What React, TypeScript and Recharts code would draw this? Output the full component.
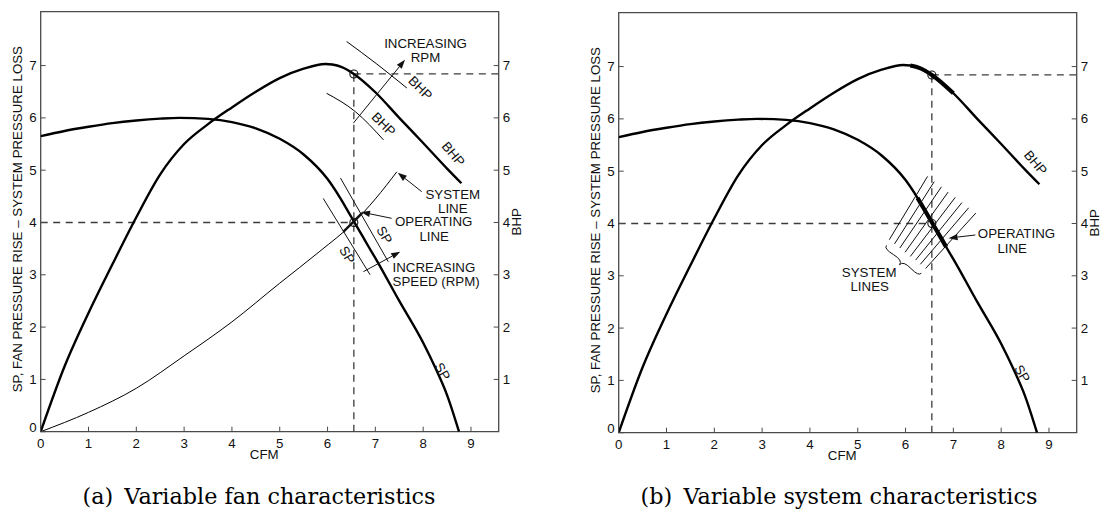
import React from 'react';
import {
  LineChart,
  Line,
  XAxis,
  YAxis,
  ReferenceLine,
  ReferenceDot,
  ReferenceArea,
} from 'recharts';

// ---- axes ----
const X_MAX = 9.58;
const Y_MAX = 8.03;
const CFM_TICKS = [0, 1, 2, 3, 4, 5, 6, 7, 8, 9];
const SP_TICKS = [0, 1, 2, 3, 4, 5, 6, 7];
const BHP_TICKS = [1, 2, 3, 4, 5, 6, 7];

const X_TITLE = 'CFM';
const Y_TITLE = 'SP, FAN PRESSURE RISE \u2013 SYSTEM PRESSURE LOSS';
const Y2_TITLE = 'BHP';
const CAPTION_A = '(a)\u2002Variable fan characteristics';
const CAPTION_B = '(b)\u2002Variable system characteristics';

// ---- fan static pressure curve ----
const SP_CFM = [0, 0.5, 1, 1.5, 2, 2.5, 2.9, 3.5, 4, 4.5, 5, 5.5, 6, 6.25, 6.5, 6.75, 6.85, 7, 7.5, 8, 8.25, 8.5, 8.75];
const SP_VALUES = [5.65, 5.75, 5.83, 5.9, 5.95, 5.985, 6.0, 5.98, 5.92, 5.8, 5.6, 5.3, 4.83, 4.49, 4.1, 3.71, 3.55, 3.32, 2.5, 1.7, 1.23, 0.7, 0];

// ---- brake horsepower curve ----
const BHP_CFM = [0, 0.5, 1, 1.5, 2, 2.5, 3, 3.5, 4, 4.5, 5, 5.5, 5.95, 6.1, 6.3, 6.55, 7, 7.5, 8, 8.5, 8.8];
const BHP_VALUES = [0, 1.25, 2.27, 3.2, 4.1, 4.92, 5.5, 5.88, 6.2, 6.5, 6.76, 6.94, 7.03, 7.02, 6.97, 6.84, 6.49, 6.0, 5.52, 5.03, 4.75];

// ---- system curve (panel a) ----
const SYSTEM_CFM = [0, 1, 2, 3, 4, 5, 5.84, 6.55, 7.0, 7.45];
const SYSTEM_SP = [0, 0.37, 0.83, 1.45, 2.1, 2.84, 3.45, 4.0, 4.45, 4.97];

// ---- operating point ----
const OP_CFM = 6.55;
const OP_SP = 4.0;
const OP_BHP = 6.84;

// ---- BHP at other fan speeds (panel a) ----
const BHP_HIGH_CFM = [6.4, 7.03, 7.66];
const BHP_HIGH = [7.46, 7.03, 6.57];
const BHP_LOW_CFM = [5.98, 6.58, 7.17];
const BHP_LOW = [6.47, 6.12, 5.58];

// ---- SP at other fan speeds (panel a), straight strokes ----
const SP_LOW_CFM = [5.91, 6.89];
const SP_LOW = [4.46, 3.0];
const SP_HIGH_CFM = [6.27, 7.27];
const SP_HIGH = [4.85, 3.25];

// operating line segment (panel a)
const OPLINE_CFM = [6.33, 6.72];
const OPLINE_SP = [3.82, 4.18];

// ---- family of system lines (panel b) ----
const HATCH_LOW_CFM = [5.66, 5.77, 5.88, 5.99, 6.1, 6.21, 6.31, 6.42];
const HATCH_LOW_SP = [3.69, 3.61, 3.53, 3.45, 3.37, 3.3, 3.22, 3.14];
const HATCH_HIGH_CFM = [6.46, 6.6, 6.75, 6.89, 7.04, 7.18, 7.32, 7.47];
const HATCH_HIGH_SP = [4.9, 4.8, 4.7, 4.6, 4.5, 4.4, 4.3, 4.2];
const BRACE_CFM = [5.6, 6.33];
const BRACE_SP = [3.58, 3.05];

const pts = (xs: number[], ys: number[]) => xs.map((x, i) => ({ x, y: ys[i] }));

const spCurve = pts(SP_CFM, SP_VALUES);
const bhpCurve = pts(BHP_CFM, BHP_VALUES);
const systemCurve = pts(SYSTEM_CFM, SYSTEM_SP);
const bhpHigh = pts(BHP_HIGH_CFM, BHP_HIGH);
const bhpLow = pts(BHP_LOW_CFM, BHP_LOW);
const spFocus = spCurve.filter((p) => p.x >= 6.25 && p.x <= 6.85);
const bhpFocus = bhpCurve.filter((p) => p.x >= 6.1 && p.x <= 7.0);

// ---- styling ----
const SANS = '"Liberation Sans", Arial, Helvetica, sans-serif';
const SERIF = '"DejaVu Serif", serif';
const INK = '#111';
const AXIS = '#4a4a4a';
const DASH = '#3c3c3c';
const TICK_LEN = 5;
const TICK_MARGIN = 4;
const FS = 13.3;

// ---- tick renderers (tick marks point into the plot) ----
const leftTick = (p: any) => {
  const { x, y, payload } = p;
  const ax = x + TICK_MARGIN;
  const lift = payload.value === 0 ? -4 : 0;
  return (
    <g>
      <line x1={ax} x2={ax + TICK_LEN} y1={y} y2={y} stroke={AXIS} strokeWidth={1} />
      <text x={x} y={y + lift} textAnchor="end" dominantBaseline="central" fontFamily={SANS} fontSize={FS} fill={INK}>
        {payload.value}
      </text>
    </g>
  );
};

const rightTick = (p: any) => {
  const { x, y, payload } = p;
  const ax = x - TICK_MARGIN;
  return (
    <g>
      <line x1={ax - TICK_LEN} x2={ax} y1={y} y2={y} stroke={AXIS} strokeWidth={1} />
      <text x={x} y={y} textAnchor="start" dominantBaseline="central" fontFamily={SANS} fontSize={FS} fill={INK}>
        {payload.value}
      </text>
    </g>
  );
};

const bottomTick = (p: any) => {
  const { x, y, payload } = p;
  const ay = y - TICK_MARGIN;
  return (
    <g>
      <line x1={x} x2={x} y1={ay - TICK_LEN} y2={ay} stroke={AXIS} strokeWidth={1} />
      <text x={x} y={ay + 11.5} textAnchor="middle" dominantBaseline="central" fontFamily={SANS} fontSize={FS} fill={INK}>
        {payload.value}
      </text>
    </g>
  );
};

// ---- axis titles ----
const xTitle = (p: any) => {
  const vb = p?.viewBox ?? {};
  const x = (vb.x ?? 40.7) + 223.5;
  const y = (vb.y ?? 431.7) + 23;
  return (
    <text x={x} y={y} textAnchor="middle" dominantBaseline="central" fontFamily={SANS} fontSize={FS} fill={INK}>
      {X_TITLE}
    </text>
  );
};

const yTitle = (p: any) => {
  const vb = p?.viewBox ?? {};
  const x = (vb.x ?? 10.7) + (vb.width ?? 30) - 23.2;
  const y = (vb.y ?? 11.7) + (vb.height ?? 420) / 2 - 2.5;
  return (
    <text x={x} y={y} transform={`rotate(-90 ${x} ${y})`} textAnchor="middle" dominantBaseline="central" fontFamily={SANS} fontSize={FS} fill={INK}>
      {Y_TITLE}
    </text>
  );
};

const y2Title = (p: any) => {
  const vb = p?.viewBox ?? {};
  const x = (vb.x ?? 498.7) + 18;
  const y = (vb.y ?? 11.7) + (vb.height ?? 420) / 2;
  return (
    <text x={x} y={y} transform={`rotate(-90 ${x} ${y})`} textAnchor="middle" dominantBaseline="central" fontFamily={SANS} fontSize={FS} fill={INK}>
      {Y2_TITLE}
    </text>
  );
};

// ---- shapes ----
const ArrowShape = (p: any) => {
  const { x1, y1, x2, y2 } = p;
  const ang = Math.atan2(y2 - y1, x2 - x1);
  const L = 9;
  const W = 3.2;
  const bx = x2 - L * Math.cos(ang);
  const by = y2 - L * Math.sin(ang);
  const nx = -Math.sin(ang) * W;
  const ny = Math.cos(ang) * W;
  return (
    <g>
      <line x1={x1} y1={y1} x2={bx} y2={by} stroke={INK} strokeWidth={1} />
      <polygon points={`${x2},${y2} ${bx + nx},${by + ny} ${bx - nx},${by - ny}`} fill={INK} />
    </g>
  );
};

const BraceShape = (p: any) => {
  const { x1, y1, x2, y2 } = p;
  const w = 7;
  const q = 0.6;
  let dx = x1 - x2;
  let dy = y1 - y2;
  const len = Math.sqrt(dx * dx + dy * dy);
  dx /= len;
  dy /= len;
  const qx1 = x1 + q * w * dy;
  const qy1 = y1 - q * w * dx;
  const qx2 = x1 - 0.25 * len * dx + (1 - q) * w * dy;
  const qy2 = y1 - 0.25 * len * dy - (1 - q) * w * dx;
  const tx = x1 - 0.5 * len * dx + w * dy;
  const ty = y1 - 0.5 * len * dy - w * dx;
  const qx3 = x2 + q * w * dy;
  const qy3 = y2 - q * w * dx;
  const qx4 = x1 - 0.75 * len * dx + (1 - q) * w * dy;
  const qy4 = y1 - 0.75 * len * dy - (1 - q) * w * dx;
  const d = `M ${x1} ${y1} Q ${qx1} ${qy1} ${qx2} ${qy2} T ${tx} ${ty} M ${x2} ${y2} Q ${qx3} ${qy3} ${qx4} ${qy4} T ${tx} ${ty}`;
  return <path d={d} fill="none" stroke={INK} strokeWidth={1} />;
};

// ---- element helpers ----
const note = (key: string, x: number, y: number, text: string, rotate = 0, anchor = 'middle') => (
  <ReferenceDot
    key={key}
    yAxisId="l"
    x={x}
    y={y}
    r={0}
    ifOverflow="visible"
    shape={(p: any) => (
      <text
        x={p.cx}
        y={p.cy}
        transform={rotate ? `rotate(${rotate} ${p.cx} ${p.cy})` : undefined}
        textAnchor={anchor}
        dominantBaseline="central"
        fontFamily={SANS}
        fontSize={FS}
        fill={INK}
      >
        {text}
      </text>
    )}
  />
);

const seg = (key: string, x1: number, y1: number, x2: number, y2: number, width = 1, dash?: string, color = INK) => (
  <ReferenceLine
    key={key}
    yAxisId="l"
    segment={[{ x: x1, y: y1 }, { x: x2, y: y2 }]}
    ifOverflow="visible"
    stroke={color}
    strokeWidth={width}
    strokeDasharray={dash}
  />
);

const arrow = (key: string, x1: number, y1: number, x2: number, y2: number) => (
  <ReferenceLine key={key} yAxisId="l" segment={[{ x: x1, y: y1 }, { x: x2, y: y2 }]} ifOverflow="visible" shape={ArrowShape} />
);

const ring = (key: string, x: number, y: number) => (
  <ReferenceDot key={key} yAxisId="l" x={x} y={y} r={4} fill="none" stroke={INK} strokeWidth={1.1} ifOverflow="visible" />
);

const curve = (key: string, data: { x: number; y: number }[], width: number) => (
  <Line
    key={key}
    yAxisId="l"
    data={data}
    dataKey="y"
    type="monotone"
    stroke="#000"
    strokeWidth={width}
    dot={false}
    activeDot={false}
    isAnimationActive={false}
  />
);

const DASH_PATTERN = '7 5.5';

function Panel({ variant }: { variant: 'a' | 'b' }) {
  const a = variant === 'a';
  const extras = a
    ? [
        curve('sys', systemCurve, 1),
        curve('bhpHi', bhpHigh, 1),
        curve('bhpLo', bhpLow, 1),
        seg('spLo', SP_LOW_CFM[0], SP_LOW[0], SP_LOW_CFM[1], SP_LOW[1]),
        seg('spHi', SP_HIGH_CFM[0], SP_HIGH[0], SP_HIGH_CFM[1], SP_HIGH[1]),
        seg('opLine', OPLINE_CFM[0], OPLINE_SP[0], OPLINE_CFM[1], OPLINE_SP[1], 2.4),
        arrow('rpmArrow', 6.54, 5.9, 7.62, 7.11),
        arrow('sysArrow', 7.97, 4.59, 7.47, 4.95),
        arrow('opArrow', 7.34, 4.08, 6.7, 4.2),
        arrow('speedArrow', 6.75, 3.06, 7.52, 3.44),
        note('t1', 8.05, 7.43, 'INCREASING'),
        note('t2', 8.05, 7.16, 'RPM'),
        note('t3', 7.94, 6.57, 'BHP', 45),
        note('t4', 7.17, 5.88, 'BHP', 45),
        note('t5', 8.63, 5.31, 'BHP', 50),
        note('t6', 8.62, 4.54, 'SYSTEM'),
        note('t7', 8.62, 4.27, 'LINE'),
        note('t8', 8.22, 4.02, 'OPERATING'),
        note('t9', 8.23, 3.74, 'LINE'),
        note('t10', 7.19, 3.76, 'SP', 60),
        note('t11', 6.41, 3.38, 'SP', 60),
        note('t12', 7.36, 3.13, 'INCREASING', 0, 'start'),
        note('t13', 7.36, 2.87, 'SPEED (RPM)', 0, 'start'),
        note('t14', 8.4, 1.15, 'SP', 60),
      ]
    : [
        curve('spFocus', spFocus, 4.2),
        curve('bhpFocus', bhpFocus, 4.2),
        ...HATCH_LOW_CFM.map((x, i) => seg(`hatch${i}`, x, HATCH_LOW_SP[i], HATCH_HIGH_CFM[i], HATCH_HIGH_SP[i])),
        <ReferenceLine
          key="brace"
          yAxisId="l"
          segment={[{ x: BRACE_CFM[0], y: BRACE_SP[0] }, { x: BRACE_CFM[1], y: BRACE_SP[1] }]}
          ifOverflow="visible"
          shape={BraceShape}
        />,
        arrow('opArrow', 7.46, 3.78, 6.9, 3.72),
        note('t1', 8.32, 3.8, 'OPERATING'),
        note('t2', 8.23, 3.53, 'LINE'),
        note('t3', 5.24, 3.06, 'SYSTEM'),
        note('t4', 5.25, 2.79, 'LINES'),
        note('t5', 8.72, 5.16, 'BHP', 50),
        note('t6', 8.44, 1.13, 'SP', 60),
      ];

  return (
    <LineChart width={560} height={510} margin={{ top: 11.7, right: 31.3, bottom: 58.3, left: 10.7 }}>
      <XAxis
        type="number"
        dataKey="x"
        domain={[0, X_MAX]}
        ticks={CFM_TICKS}
        interval={0}
        height={20}
        tickSize={0}
        tickMargin={TICK_MARGIN}
        tick={bottomTick}
        tickLine={false}
        axisLine={false}
        allowDataOverflow
        label={xTitle}
      />
      <YAxis
        yAxisId="l"
        type="number"
        domain={[0, Y_MAX]}
        ticks={SP_TICKS}
        interval={0}
        width={30}
        tickSize={0}
        tickMargin={TICK_MARGIN}
        tick={leftTick}
        tickLine={false}
        axisLine={false}
        allowDataOverflow
        label={yTitle}
      />
      <YAxis
        yAxisId="r"
        orientation="right"
        type="number"
        domain={[0, Y_MAX]}
        ticks={BHP_TICKS}
        interval={0}
        width={30}
        tickSize={0}
        tickMargin={TICK_MARGIN}
        tick={rightTick}
        tickLine={false}
        axisLine={false}
        allowDataOverflow
        label={y2Title}
      />
      <ReferenceArea
        yAxisId="l"
        x1={0}
        x2={X_MAX}
        y1={0}
        y2={Y_MAX}
        fill="none"
        fillOpacity={0}
        stroke={AXIS}
        strokeWidth={1.3}
        ifOverflow="visible"
      />
      {seg('dashSp', 0, OP_SP, OP_CFM, OP_SP, 1.3, DASH_PATTERN, DASH)}
      {seg('dashCfm', OP_CFM, 0, OP_CFM, OP_BHP, 1.3, DASH_PATTERN, DASH)}
      {seg('dashBhp', OP_CFM, OP_BHP, X_MAX, OP_BHP, 1.3, DASH_PATTERN, DASH)}
      {curve('sp', spCurve, 2.4)}
      {curve('bhp', bhpCurve, 2.4)}
      {extras}
      {ring('opSp', OP_CFM, OP_SP)}
      {ring('opBhp', OP_CFM, OP_BHP)}
    </LineChart>
  );
}

export default function App() {
  return (
    <div style={{ position: 'absolute', left: 0, top: 0, width: 1106, height: 510, background: '#fff', overflow: 'hidden' }}>
      <div style={{ position: 'absolute', left: 0, top: 0 }}>
        <Panel variant="a" />
      </div>
      <div style={{ position: 'absolute', left: 578.3, top: 0.6 }}>
        <Panel variant="b" />
      </div>
      <svg width={1106} height={510} style={{ position: 'absolute', left: 0, top: 0, pointerEvents: 'none' }}>
        <text x={259} y={504} textAnchor="middle" fontFamily={SERIF} fontSize={22.3} fill="#000">
          {CAPTION_A}
        </text>
        <text x={839} y={504} textAnchor="middle" fontFamily={SERIF} fontSize={22.3} fill="#000">
          {CAPTION_B}
        </text>
      </svg>
    </div>
  );
}
